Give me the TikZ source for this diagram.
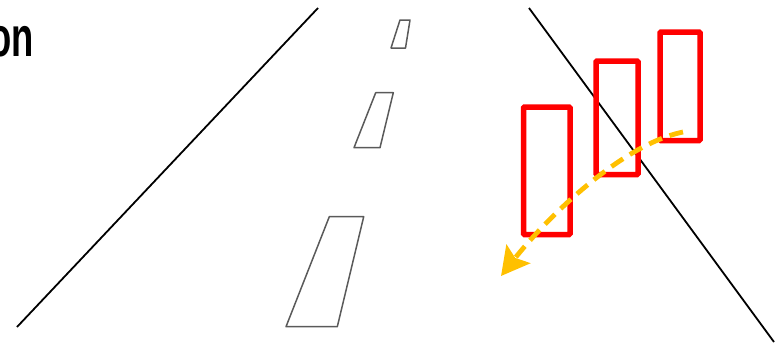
\documentclass[tikz,border=0pt]{standalone}
\usepackage{fontspec}
\setmainfont{Liberation Sans}
\usetikzlibrary{arrows.meta}
\definecolor{laneGray}{HTML}{5A5A5A}
\definecolor{trajOrange}{HTML}{FFC000}
\tikzset{
    roadedge/.style={draw=black, line width=1.8pt},
    lanemark/.style={draw=laneGray, line width=1.5pt, line join=round},
    carbox/.style={draw=red, line width=5.5pt, rounded corners=1pt, inner sep=0pt},
    trajarrow/.style={draw=trajOrange, line width=4.8pt, dash pattern=on 14pt off 8pt,
        -{Stealth[length=28pt, width=30pt, inset=5pt]}}
}

\begin{document}
\begin{tikzpicture}[x=1pt, y=-1pt]
\useasboundingbox (0,0) rectangle (777,351);
% title fragment
\node[anchor=base east, inner sep=0pt, font=\fontsize{56}{60}\selectfont\bfseries] (title) at (34,56.7) {\scalebox{0.65}[1]{on}};
% road edges
\draw[roadedge] (17,327) -- (318,8);
\draw[roadedge] (529,8) -- (774,342);
% lane markings
\draw[lanemark] (400,20) -- (410,20) -- (405.5,48) -- (391,48) -- cycle;
\draw[lanemark] (375.7,92.7) -- (393.3,92.7) -- (380,147.7) -- (354,147.7) -- cycle;
\draw[lanemark] (329.3,216.7) -- (363.7,216.7) -- (337.3,326.7) -- (286,326.7) -- cycle;
% vehicles
\node[carbox, minimum width=46.5pt, minimum height=127.5pt] (carA) at (546.75,170.75) {};
\node[carbox, minimum width=42pt, minimum height=113.5pt] (carB) at (617,117.75) {};
\node[carbox, minimum width=40pt, minimum height=108.5pt] (carC) at (680,86.25) {};
% predicted trajectory
\coordinate (trajStart) at (683,132);
\coordinate (trajEnd) at (501,276);
\draw[trajarrow] (trajStart) .. controls (620,145) and (545,220) .. (trajEnd);
\end{tikzpicture}
\end{document}
